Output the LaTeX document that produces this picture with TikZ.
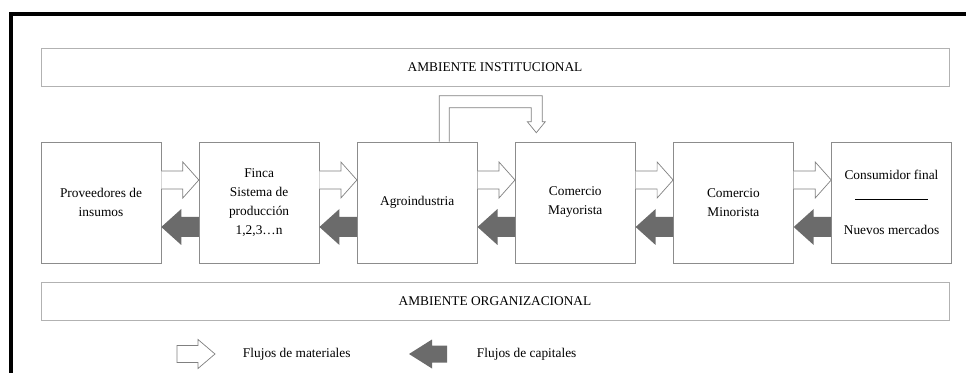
\documentclass[tikz,border=0pt]{standalone}
\usepackage{fontspec}
\setmainfont{Liberation Serif}
\usetikzlibrary{positioning,calc}

\tikzset{
  stage/.style={draw=black!45, minimum width=3cm, minimum height=3.025cm,
    align=center, inner sep=2pt},
  ambient/.style={draw=black!30, minimum width=22.7cm, minimum height=0.95cm},
  matflow/.style={draw=black!50, fill=white, line width=0.5pt, line join=miter},
  capflow/.style={fill=black!58, draw=none}
}

\begin{document}
\begin{tikzpicture}[x=0.025cm, y=-0.025cm,
   font=\fontsize{9.5}{13.5}\selectfont,
   node distance=0.9375cm]

\useasboundingbox (0,0) rectangle (966,373);
\draw[line width=2.6pt] (11,373) -- (11,14) -- (966,14);

\node[ambient] (inst) at (495,67) {AMBIENTE INSTITUCIONAL};
\node[ambient] (org) at (495,301.5) {AMBIENTE ORGANIZACIONAL};

% eslabones de la cadena
\node[stage] (prov) at (101,202.5) {Proveedores de\\insumos};
\node[stage, right=of prov] (finca) {Finca\\Sistema de\\producción\\1,2,3…n};
\node[stage, right=of finca] (agro) {Agroindustria};
\node[stage, right=of agro] (may) {Comercio\\Mayorista};
\node[stage, right=of may] (min) {Comercio\\Minorista};
\node[stage, right=of min] (cons) {Consumidor final\\[4pt]\rule[3pt]{1.825cm}{0.5pt}\\[8pt]Nuevos mercados};

\foreach \a/\b in {prov/finca, finca/agro, agro/may, may/min, min/cons} {
  \draw[matflow] ($(\a.east)+(0,-31.5)$) -- ($(\b.west)+(-16,-31.5)$)
    -- ($(\b.west)+(-16,-40.5)$) -- ($(\b.west)+(0,-22.5)$)
    -- ($(\b.west)+(-16,-4.5)$) -- ($(\b.west)+(-16,-13.5)$)
    -- ($(\a.east)+(0,-13.5)$);
  \fill[capflow] ($(\b.west)+(0,14.5)$) -- ($(\a.east)+(20,14.5)$)
    -- ($(\a.east)+(20,6.5)$) -- ($(\a.east)+(0,24.5)$)
    -- ($(\a.east)+(20,42.5)$) -- ($(\a.east)+(20,34.5)$)
    -- ($(\b.west)+(0,34.5)$) -- cycle;
}

% agroindustria -> mayorista
\draw[matflow] ($(agro.north)+(22,0)$) -- ($(agro.north)+(22,-46)$)
  -| ($(may.north)+(-33,-20)$) -- ++(3,0) -- ($(may.north)+(-39,-9)$)
  -- ($(may.north)+(-48,-20)$) -- ++(4,0) |- ($(agro.north)+(32,-34)$)
  -- ($(agro.north)+(32,0)$);

% leyenda
\node[anchor=west] (lmat) at (238,354) {Flujos de materiales};
\node[anchor=west] (lcap) at (472,354) {Flujos de capitales};
\draw[matflow] ($(lmat.west)+(-61,-8.5)$) -- ($(lmat.west)+(-40,-8.5)$)
  -- ($(lmat.west)+(-40,-14.5)$) -- ($(lmat.west)+(-23,0)$)
  -- ($(lmat.west)+(-40,14.5)$) -- ($(lmat.west)+(-40,8.5)$)
  -- ($(lmat.west)+(-61,8.5)$) -- cycle;
\fill[capflow] ($(lcap.west)+(-25,-8.5)$) -- ($(lcap.west)+(-40,-8.5)$)
  -- ($(lcap.west)+(-40,-14.5)$) -- ($(lcap.west)+(-63,0)$)
  -- ($(lcap.west)+(-40,14.5)$) -- ($(lcap.west)+(-40,8.5)$)
  -- ($(lcap.west)+(-25,8.5)$) -- cycle;

\end{tikzpicture}
\end{document}
